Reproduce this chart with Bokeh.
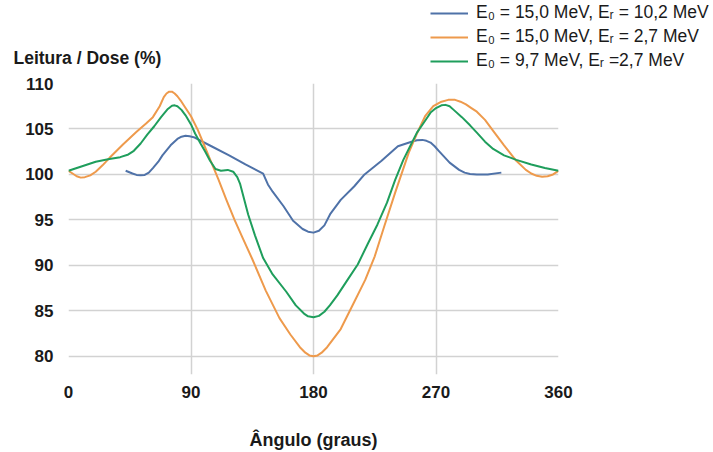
from bokeh.plotting import figure
from bokeh.layouts import column
from bokeh.models import FixedTicker, Range1d, Label, Legend, LegendItem
from bokeh.embed import file_html
from bokeh.resources import INLINE

# --- data (angle in degrees, reading / dose in %) ---
blue_x = [42, 47, 50, 53, 56, 59, 62, 66, 69, 75, 80, 83, 86, 89, 92, 105, 118, 130,
          143, 146.5, 150, 158, 165, 172, 176, 180, 184, 188, 192.5, 200, 210, 217.5,
          230, 242, 252, 256, 260, 263, 266, 269, 272, 280, 287, 291, 295, 300, 308,
          318]
blue_y = [100.4, 100.1, 99.95, 99.9, 99.95, 100.2, 100.7, 101.4, 102.1, 103.2, 103.9,
          104.15, 104.25, 104.2, 104.1, 103.1, 102.1, 101.1, 100.1, 98.9, 98.1, 96.5,
          94.9, 94.0, 93.7, 93.6, 93.8, 94.4, 95.7, 97.2, 98.7, 100.0, 101.5, 103.1,
          103.6, 103.75, 103.8, 103.7, 103.5, 103.1, 102.6, 101.3, 100.5, 100.2, 100.05,
          100.0, 100.0, 100.2]

orange_x = [0, 3, 6, 9, 12, 16, 20, 25, 30, 40, 50, 57, 62, 67, 70, 72, 74, 76, 78,
            80, 83, 86, 90, 95, 100, 105, 110, 116, 122, 128, 135, 145, 155, 163, 170,
            174, 177, 180, 183, 186, 190, 200, 210, 218, 225, 232, 240, 250, 256, 262,
            268, 274, 279, 284, 288, 292, 296, 300, 306, 312, 320, 329, 336, 340, 344,
            348, 352, 356, 360]
orange_y = [100.4, 100.1, 99.8, 99.65, 99.7, 99.9, 100.3, 101.0, 101.8, 103.3, 104.7,
            105.6, 106.3, 107.5, 108.5, 108.9, 109.1, 109.1, 108.9, 108.6, 108.0, 107.3,
            106.4, 104.9, 103.1, 101.3, 99.5, 97.2, 95.0, 93.0, 90.7, 87.2, 84.2, 82.4,
            81.0, 80.4, 80.1, 80.0, 80.1, 80.4, 81.0, 83.0, 86.0, 88.4, 91.0, 94.3,
            98.0, 102.4, 104.5, 106.4, 107.5, 108.0, 108.2, 108.2, 108.0, 107.7, 107.3,
            106.9, 106.0, 104.8, 103.2, 101.5, 100.5, 100.1, 99.85, 99.75, 99.8, 100.0,
            100.4]

green_x = [0, 10, 20, 30, 38, 44, 48, 53, 58, 63, 68, 73, 76, 78, 80, 83, 86, 90, 93,
           97, 100.5, 104, 108, 112, 117, 121, 124, 126, 129, 132, 137, 143, 150, 160,
           167, 173, 176, 180, 184, 188, 192, 197.5, 205, 212.5, 220, 227, 234, 240,
           246, 251, 256, 262, 266, 270, 274, 277, 280, 283, 289, 295, 300, 306, 312,
           320, 329, 340, 350, 360]
green_y = [100.4, 100.9, 101.4, 101.7, 101.9, 102.2, 102.6, 103.4, 104.4, 105.3, 106.3,
           107.2, 107.55, 107.6, 107.5, 107.1, 106.5, 105.5, 104.5, 103.4, 102.5, 101.5,
           100.6, 100.4, 100.5, 100.3, 99.7, 99.0, 97.3, 95.6, 93.3, 90.8, 89.0, 87.1,
           85.6, 84.7, 84.4, 84.3, 84.45, 84.9, 85.6, 86.7, 88.4, 90.1, 92.4, 94.5,
           96.9, 99.4, 101.6, 103.1, 104.6, 105.9, 106.8, 107.3, 107.6, 107.65, 107.5,
           107.1, 106.3, 105.4, 104.6, 103.6, 102.8, 102.1, 101.6, 101.1, 100.7, 100.4]

x_ticks = [0, 90, 180, 270, 360]
y_ticks = [80, 85, 90, 95, 100, 105, 110]

labels = ["E\u2080 = 15,0 MeV, E\u1d63 = 10,2 MeV",
          "E\u2080 = 15,0 MeV, E\u1d63 = 2,7 MeV",
          "E\u2080 = 9,7 MeV, E\u1d63 =2,7 MeV"]
colors = ["#4f72a8", "#ee9a4c", "#1f9e5c"]
series = [(blue_x, blue_y), (orange_x, orange_y), (green_x, green_y)]

FONT = "Liberation Sans"
TXT = "#1a1a1a"
W = 713
H_TOP = 72
H_MAIN = 452 - H_TOP

# ---------- header strip: y-axis title + legend ----------
top = figure(width=W, height=H_TOP, output_backend="svg", toolbar_location=None,
             x_range=Range1d(0, 1), y_range=Range1d(0, 1),
             x_axis_type=None, y_axis_type=None,
             min_border_left=0, min_border_right=0, min_border_top=0,
             min_border_bottom=0)
top.frame_align = False
top.outline_line_color = None
top.xgrid.visible = False
top.ygrid.visible = False

# legend renderers (same data; lie outside this strip's ranges, only their glyphs show)
top_r = [top.line(sx, sy, line_color=c, line_width=2) for (sx, sy), c in zip(series, colors)]

legend = Legend(items=[LegendItem(label=l, renderers=[r]) for l, r in zip(labels, top_r)],
                location=(430, 1), padding=0, margin=0, spacing=3,
                glyph_width=38, glyph_height=20, label_height=20,
                label_standoff=8, border_line_color=None,
                background_fill_alpha=0,
                label_text_font=FONT, label_text_font_size="17.5px",
                label_text_color=TXT)
top.add_layout(legend, "center")

top.add_layout(Label(x=13, y=H_TOP - 57, x_units="screen", y_units="screen",
                     text="Leitura / Dose (%)", text_font=FONT,
                     text_font_style="bold", text_font_size="17.5px",
                     text_color=TXT, text_baseline="middle"))

# ---------- main chart ----------
p = figure(width=W, height=H_MAIN, output_backend="svg", toolbar_location=None,
           x_range=Range1d(0, 360), y_range=Range1d(78, 110),
           min_border_left=68, min_border_right=W - 558,
           min_border_top=83 - H_TOP, min_border_bottom=77)
p.frame_align = False
p.outline_line_color = None

for ax in (p.xaxis[0], p.yaxis[0]):
    ax.axis_line_color = None
    ax.major_tick_line_color = None
    ax.minor_tick_line_color = None
    ax.major_label_text_font = FONT
    ax.major_label_text_font_style = "bold"
    ax.major_label_text_font_size = "17px"
    ax.major_label_text_color = TXT

p.xaxis[0].ticker = FixedTicker(ticks=x_ticks)
p.yaxis[0].ticker = FixedTicker(ticks=y_ticks)
p.xaxis[0].major_label_standoff = 5
p.yaxis[0].major_label_standoff = 9

p.xaxis[0].axis_label = "\u00c2ngulo (graus)"
p.xaxis[0].axis_label_text_font = FONT
p.xaxis[0].axis_label_text_font_style = "bold"
p.xaxis[0].axis_label_text_font_size = "18px"
p.xaxis[0].axis_label_text_color = TXT
p.xaxis[0].axis_label_standoff = 29

p.xgrid[0].ticker = FixedTicker(ticks=x_ticks)
p.ygrid[0].ticker = FixedTicker(ticks=y_ticks)
for g in (p.xgrid[0], p.ygrid[0]):
    g.grid_line_color = "#d2d2d2"
    g.grid_line_width = 1.5

for (sx, sy), c in zip(series, colors):
    p.line(sx, sy, line_color=c, line_width=2, line_join="round")

layout = column(top, p, spacing=0)
open("out.html", "w").write(file_html(layout, INLINE))
